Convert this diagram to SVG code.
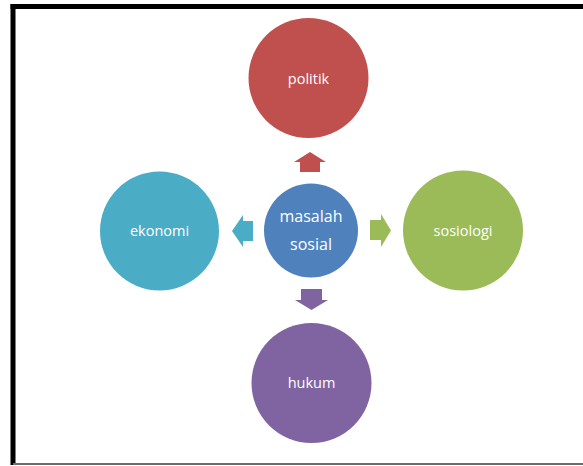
<svg xmlns="http://www.w3.org/2000/svg" width="583" height="466" viewBox="0 0 583 466">
<style>
.lbl{font-family:"Open Sans","Liberation Sans",sans-serif;fill:#ffffff;text-anchor:middle;font-size:14.5px}
.big{font-size:16px}
</style>
<rect x="0" y="0" width="583" height="466" fill="#ffffff"/>
<g id="frame">
<rect x="10.5" y="4" width="5" height="461" fill="#000000"/>
<rect x="10.5" y="4" width="573" height="5" fill="#000000"/>
<rect x="13" y="463" width="570" height="2" fill="#6b6b6b"/>
</g>
<g id="connectors">
<polygon points="310,152 326,162 320,162 320,172 300,172 300,162 294,162" fill="#C0504D"/>
<polygon points="311.5,310 328,300 322,300 322,289 301,289 301,300 295,300" fill="#8064A2"/>
<polygon points="232,231 243,215 243,221 253,221 253,241 243,241 243,247" fill="#4BACC6"/>
<polygon points="391,230.5 381,214 381,220 370,220 370,240 381,240 381,247" fill="#9BBB59"/>
</g>
<g id="politik">
<circle cx="308.5" cy="78" r="60" fill="#C0504D"/>
<text class="lbl" x="308.5" y="84">politik</text>
</g>
<g id="sosiologi">
<circle cx="463" cy="230.5" r="60" fill="#9BBB59"/>
<text class="lbl" x="463" y="236">sosiologi</text>
</g>
<g id="hukum">
<circle cx="311.5" cy="383" r="60" fill="#8064A2"/>
<text class="lbl" x="311.5" y="388">hukum</text>
</g>
<g id="ekonomi">
<circle cx="159.5" cy="231" r="59.5" fill="#4BACC6"/>
<text class="lbl" x="159.5" y="236">ekonomi</text>
</g>
<g id="masalah">
<circle cx="311" cy="230.5" r="47" fill="#4F81BD"/>
<text class="lbl big" x="311" y="222">masalah</text>
<text class="lbl big" x="311" y="250">sosial</text>
</g>
</svg>
